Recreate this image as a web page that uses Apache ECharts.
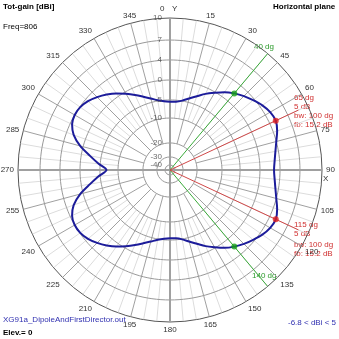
<!DOCTYPE html>
<html><head><meta charset="utf-8">
<script src="https://cdn.jsdelivr.net/npm/echarts@6/dist/echarts.min.js"></script>
<style>html,body{margin:0;padding:0;background:#fff}#c{width:339px;height:339px}</style>
</head><body><div id="c"></div>
<script>
// ---- data ----
const angles = [0,5,10,15,20,25,30,35,40,45,50,55,60,65,70,75,80,85,90,95,100,105,110,115,120,125,130,135,140,145,150,155,160,165,170,175,180,185,190,195,200,205,210,215,220,225,230,235,240,245,250,255,260,265,270,275,280,285,290,295,300,305,310,315,320,325,330,335,340,345,350,355,360];
const gainDb = [-5.5,-5.4,-4.9,-4.0,-2.9,-1.5,-0.2,1.0,2.0,2.9,3.7,4.4,4.85,5.0,4.6,4.0,3.4,3.0,2.8,3.0,3.4,4.0,4.6,5.0,4.85,4.4,3.7,2.9,2.0,1.0,-0.2,-1.5,-2.9,-4.0,-4.9,-5.4,-5.5,-5.3,-4.8,-4.0,-3.0,-1.8,-0.5,0.7,1.7,2.6,3.4,3.9,4.0,3.6,2.5,0.6,-2.2,-4.6,-6.8,-4.6,-2.2,0.6,2.5,3.6,4.0,3.9,3.4,2.6,1.7,0.7,-0.5,-1.8,-3.0,-4.0,-4.8,-5.3,-5.5];
const ringLabels = [10,7,4,0,-5,-10,-20,-30,-40];
const halfPowerAngles = [40,140];
const halfPowerDb = [2,2];
const maxAngles = [65,115];
const maxDb = [5,5];

// ---- radial (log-like) scale: dB -> normalized radius ----
const scaleDb = [10,7,4,0,-5,-10,-20,-30,-40];
const scaleR  = [1.0,0.855,0.724,0.592,0.461,0.342,0.178,0.086,0.033];
function toR(db){
  if(db>=scaleDb[0]) return scaleR[0];
  for(let i=0;i<scaleDb.length-1;i++){
    if(db<=scaleDb[i] && db>=scaleDb[i+1]){
      const t=(scaleDb[i]-db)/(scaleDb[i]-scaleDb[i+1]);
      return scaleR[i]+(scaleR[i+1]-scaleR[i])*t;
    }
  }
  return scaleR[scaleR.length-1];
}

const chart = echarts.init(document.getElementById('c'), null, {renderer:'canvas'});
const FONT = 'Liberation Sans';

// spokes
const minorSp=[], majorSp=[];
for(let a=0;a<360;a+=5){
  if(a%90===0) continue;
  if(a%15===0){ majorSp.push([toR(-20),a],[1,a],['-','-']); }
  else { minorSp.push([toR(-10),a],[1,a],['-','-']); }
}
// rings
const rings=[];
ringLabels.slice(1).forEach(db=>{
  for(let a=0;a<=360;a+=2) rings.push([toR(db),a]);
  rings.push(['-','-']);
});

const series = [
  {type:'line',coordinateSystem:'polar',data:minorSp,symbol:'none',silent:true,lineStyle:{color:'#dcdcdc',width:1},z:1},
  {type:'line',coordinateSystem:'polar',data:majorSp,symbol:'none',silent:true,lineStyle:{color:'#a0a0a0',width:1},z:2},
  {type:'line',coordinateSystem:'polar',data:rings,symbol:'none',silent:true,lineStyle:{color:'#999',width:1},z:2},
  {type:'line',coordinateSystem:'polar',data:[[1,0],[0,0],[1,180]],symbol:'none',silent:true,lineStyle:{color:'#a0a0a0',width:2},z:3},
  {type:'line',coordinateSystem:'polar',data:[[1,90],[0,90],[1,270]],symbol:'none',silent:true,lineStyle:{color:'#a0a0a0',width:2},z:3},
  {type:'line',coordinateSystem:'polar',data:[[0,halfPowerAngles[0]],[1,halfPowerAngles[0]]],symbol:'none',lineStyle:{color:'#3aaa3a',width:1},z:4},
  {type:'line',coordinateSystem:'polar',data:[[0,halfPowerAngles[1]],[1,halfPowerAngles[1]]],symbol:'none',lineStyle:{color:'#3aaa3a',width:1},z:4},
  {type:'line',coordinateSystem:'polar',data:[[0,maxAngles[0]],[toR(8.6),maxAngles[0]]],symbol:'none',lineStyle:{color:'#d04848',width:1},z:4},
  {type:'line',coordinateSystem:'polar',data:[[0,maxAngles[1]],[toR(8.6),maxAngles[1]]],symbol:'none',lineStyle:{color:'#d04848',width:1},z:4},
  {type:'line',coordinateSystem:'polar',data:angles.map((a,i)=>[toR(gainDb[i]),a]),symbol:'none',smooth:0.3,lineStyle:{color:'#1c1c9a',width:2},z:5},
  {type:'scatter',coordinateSystem:'polar',data:halfPowerAngles.map((a,i)=>[toR(halfPowerDb[i]),a]),symbolSize:6,itemStyle:{color:'#18a018'},z:6},
  {type:'scatter',coordinateSystem:'polar',data:maxAngles.map((a,i)=>[toR(maxDb[i]),a]),symbolSize:6,itemStyle:{color:'#e02020'},z:6},
  {type:'scatter',coordinateSystem:'polar',data:ringLabels.map(db=>[toR(db),0]),symbolSize:0,silent:true,z:7,
    label:{show:true,position:'left',distance:8,formatter:p=>String(ringLabels[p.dataIndex]),color:'#444',fontSize:8,fontFamily:FONT}}
];

const txt=(x,y,t,o)=>Object.assign({type:'text',left:x,top:y,style:Object.assign({text:t,fontSize:8,fontFamily:FONT,fill:'#000'},o||{})});

chart.setOption({
  animation:false,
  polar:{center:[170,170],radius:152},
  angleAxis:{type:'value',min:0,max:360,interval:15,startAngle:90,clockwise:true,
    axisLine:{show:true,lineStyle:{color:'#555',width:1}},axisTick:{show:false},splitLine:{show:false},
    axisLabel:{margin:4,color:'#333',fontSize:8,fontFamily:FONT,formatter:v=>(v===0||v===360)?'':String(v)}},
  radiusAxis:{type:'value',min:0,max:1,show:false,axisLine:{show:false},axisLabel:{show:false},splitLine:{show:false},axisTick:{show:false}},
  series:series,
  graphic:[
    txt(3,3,'Tot-gain [dBi]',{fontWeight:'bold'}),
    txt(273,3,'Horizontal plane',{fontWeight:'bold'}),
    txt(3,23,'Freq=806',{}),
    txt(160,5,'0',{fill:'#333'}),
    txt(172,5,'Y',{fill:'#333'}),
    txt(323,175,'X',{fill:'#333'}),
    txt(254,43,'40 dg',{fill:'#2a9a2a'}),
    txt(252,272,'140 dg',{fill:'#2a9a2a'}),
    txt(294,94,'65 dg',{fill:'#d03030'}),
    txt(294,103,'5 dB',{fill:'#d03030'}),
    txt(294,112,'bw: 100 dg',{fill:'#d03030'}),
    txt(294,121,'fb: 15.2 dB',{fill:'#d03030'}),
    txt(294,221,'115 dg',{fill:'#d03030'}),
    txt(294,230,'5 dB',{fill:'#d03030'}),
    txt(294,241,'bw: 100 dg',{fill:'#d03030'}),
    txt(294,250,'fb: 15.2 dB',{fill:'#d03030'}),
    txt(3,316,'XG91a_DipoleAndFirstDirector.out',{fill:'#3030b0'}),
    txt(3,329,'Elev.= 0',{fontWeight:'bold'}),
    txt(288,319,'-6.8 < dBi < 5',{fill:'#3030b0'})
  ]
});
</script></body></html>
